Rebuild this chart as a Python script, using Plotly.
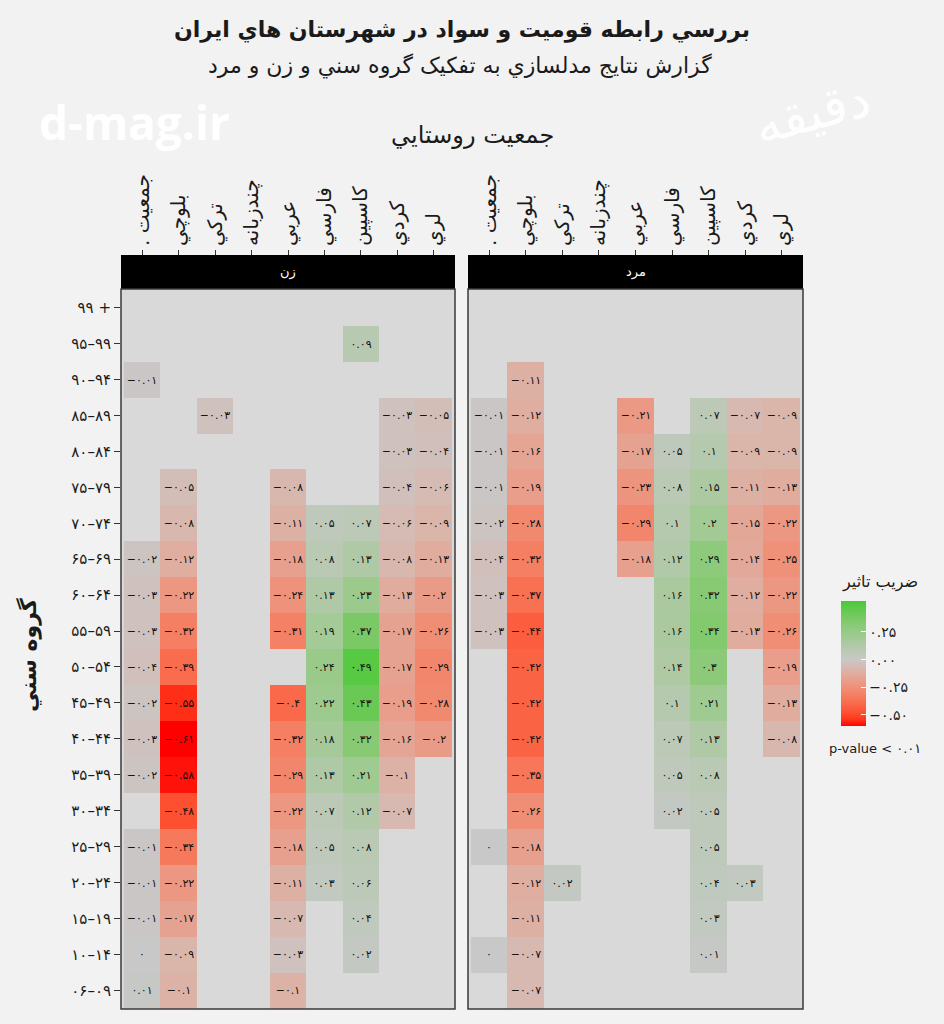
import numpy as np
import plotly.graph_objects as go

N = None
# ---------------- data ----------------
ages = ["۹۹ +", "۹۵–۹۹", "۹۰–۹۴", "۸۵–۸۹", "۸۰–۸۴", "۷۵–۷۹", "۷۰–۷۴", "۶۵–۶۹", "۶۰–۶۴", "۵۵–۵۹",
        "۵۰–۵۴", "۴۵–۴۹", "۴۰–۴۴", "۳۵–۳۹", "۳۰–۳۴", "۲۵–۲۹", "۲۰–۲۴", "۱۵–۱۹", "۱۰–۱۴", "۰۶–۰۹"]
ethnic = ["جمعيت .\u200f", "بلوچي", "ترکي", "چندزبانه", "عربي", "فارسي", "کاسپين", "کردي", "لري"]

zan_jamiat = [N, N, -0.01, N, N, N, N, -0.02, -0.03, -0.03, -0.04, -0.02, -0.03, -0.02, N, -0.01, -0.01, -0.01, 0, 0.01]
zan_baluchi = [N, N, N, N, N, -0.05, -0.08, -0.12, -0.22, -0.32, -0.39, -0.55, -0.61, -0.58, -0.48, -0.34, -0.22, -0.17, -0.09, -0.1]
zan_torki = [N, N, N, -0.03, N, N, N, N, N, N, N, N, N, N, N, N, N, N, N, N]
zan_chand = [N, N, N, N, N, N, N, N, N, N, N, N, N, N, N, N, N, N, N, N]
zan_arabi = [N, N, N, N, N, -0.08, -0.11, -0.18, -0.24, -0.31, N, -0.4, -0.32, -0.29, -0.22, -0.18, -0.11, -0.07, -0.03, -0.1]
zan_farsi = [N, N, N, N, N, N, 0.05, 0.08, 0.13, 0.19, 0.24, 0.22, 0.18, 0.13, 0.07, 0.05, 0.03, N, N, N]
zan_caspian = [N, 0.09, N, N, N, N, 0.07, 0.13, 0.23, 0.37, 0.49, 0.43, 0.32, 0.21, 0.12, 0.08, 0.06, 0.04, 0.02, N]
zan_kurdi = [N, N, N, -0.03, -0.03, -0.04, -0.06, -0.08, -0.13, -0.17, -0.17, -0.19, -0.16, -0.1, -0.07, N, N, N, N, N]
zan_lori = [N, N, N, -0.05, -0.04, -0.06, -0.09, -0.13, -0.2, -0.26, -0.29, -0.28, -0.2, N, N, N, N, N, N, N]

mard_jamiat = [N, N, N, -0.01, -0.01, -0.01, -0.02, -0.04, -0.03, -0.03, N, N, N, N, N, 0, N, N, 0, N]
mard_baluchi = [N, N, -0.11, -0.12, -0.16, -0.19, -0.28, -0.32, -0.37, -0.44, -0.42, -0.42, -0.42, -0.35, -0.26, -0.18, -0.12, -0.11, -0.07, -0.07]
mard_torki = [N, N, N, N, N, N, N, N, N, N, N, N, N, N, N, N, 0.02, N, N, N]
mard_chand = [N, N, N, N, N, N, N, N, N, N, N, N, N, N, N, N, N, N, N, N]
mard_arabi = [N, N, N, -0.21, -0.17, -0.23, -0.29, -0.18, N, N, N, N, N, N, N, N, N, N, N, N]
mard_farsi = [N, N, N, N, 0.05, 0.08, 0.1, 0.12, 0.16, 0.16, 0.14, 0.1, 0.07, 0.05, 0.02, N, N, N, N, N]
mard_caspian = [N, N, N, 0.07, 0.1, 0.15, 0.2, 0.29, 0.32, 0.34, 0.3, 0.21, 0.13, 0.08, 0.05, 0.05, 0.04, 0.03, 0.01, N]
mard_kurdi = [N, N, N, -0.07, -0.09, -0.11, -0.15, -0.14, -0.12, -0.13, N, N, N, N, N, N, 0.03, N, N, N]
mard_lori = [N, N, N, -0.09, -0.09, -0.13, -0.22, -0.25, -0.22, -0.26, -0.19, -0.13, -0.08, N, N, N, N, N, N, N]

legend_vals = [0.25, 0.0, -0.25, -0.5]
legend_text = ["۰.۲۵", "۰.۰۰", "−۰.۲۵", "−۰.۵۰"]

zan_cols = [zan_jamiat, zan_baluchi, zan_torki, zan_chand, zan_arabi, zan_farsi, zan_caspian, zan_kurdi, zan_lori]
mard_cols = [mard_jamiat, mard_baluchi, mard_torki, mard_chand, mard_arabi, mard_farsi, mard_caspian, mard_kurdi, mard_lori]

# ---------------- helpers ----------------
FA = str.maketrans("0123456789-", "۰۱۲۳۴۵۶۷۸۹−")


def fa(v):
    if v is None:
        return ""
    return f"{v:g}".translate(FA)


def to_matrix(cols):
    z = np.array([[np.nan if c[i] is None else c[i] for c in cols] for i in range(len(ages))], dtype=float)
    t = [[fa(c[i]) for c in cols] for i in range(len(ages))]
    return z, t


def srgb_to_lab(rgb):
    c = np.array(rgb, dtype=float) / 255.0
    c = np.where(c > 0.04045, ((c + 0.055) / 1.055) ** 2.4, c / 12.92)
    M = np.array([[0.4124, 0.3576, 0.1805], [0.2126, 0.7152, 0.0722], [0.0193, 0.1192, 0.9505]])
    xyz = M @ c / np.array([0.95047, 1.0, 1.08883])
    f = np.where(xyz > 0.008856, np.cbrt(xyz), 7.787 * xyz + 16 / 116)
    return np.array([116 * f[1] - 16, 500 * (f[0] - f[1]), 200 * (f[1] - f[2])])


def lab_to_srgb(lab):
    L, a, b = lab
    fy = (L + 16) / 116
    fx = fy + a / 500
    fz = fy - b / 200
    f = np.array([fx, fy, fz])
    xyz = np.where(f ** 3 > 0.008856, f ** 3, (f - 16 / 116) / 7.787) * np.array([0.95047, 1.0, 1.08883])
    Mi = np.array([[3.2406, -1.5372, -0.4986], [-0.9689, 1.8758, 0.0415], [0.0557, -0.2040, 1.0570]])
    c = Mi @ xyz
    c = np.where(c > 0.0031308, 1.055 * np.clip(c, 0, None) ** (1 / 2.4) - 0.055, 12.92 * c)
    c = np.clip(c, 0, 1) * 255
    return "rgb(%d,%d,%d)" % tuple(np.round(c).astype(int))


CMIN, CMAX = -0.60, 0.53
LOW, MID, HIGH = (255, 0, 0), (200, 200, 200), (72, 200, 52)
mid_pos = (0 - CMIN) / (CMAX - CMIN)
colorscale = []
for k in range(11):
    t = k / 10
    lab = srgb_to_lab(LOW) * (1 - t) + srgb_to_lab(MID) * t
    colorscale.append([mid_pos * t, lab_to_srgb(lab)])
for k in range(1, 11):
    t = k / 10
    lab = srgb_to_lab(MID) * (1 - t) + srgb_to_lab(HIGH) * t
    colorscale.append([mid_pos + (1 - mid_pos) * t, lab_to_srgb(lab)])

# ---------------- geometry ----------------
W, H = 944, 1024
ML, MR, MT, MB = 121, 944 - 803, 255, 1024 - 1009
PW, PH = W - ML - MR, H - MT - MB


def px(x):
    return (x - ML) / PW


def py(y):
    return (H - MB - y) / PH


FONT = "DejaVu Sans"
TXT = "#1a1a1a"

zz, tz = to_matrix(zan_cols)
zm, tm = to_matrix(mard_cols)

fig = go.Figure()
fig.add_trace(go.Heatmap(z=zz, x=ethnic, y=ages, text=tz, texttemplate="%{text}",
                         textfont=dict(size=11, color="#111", family=FONT),
                         coloraxis="coloraxis", xaxis="x", yaxis="y", hoverinfo="skip"))
fig.add_trace(go.Heatmap(z=zm, x=ethnic, y=ages, text=tm, texttemplate="%{text}",
                         textfont=dict(size=11, color="#111", family=FONT),
                         coloraxis="coloraxis", xaxis="x2", yaxis="y", hoverinfo="skip"))

ydom_top = py(289)
xcommon = dict(type="category", categoryorder="array", categoryarray=ethnic, range=[-0.58, 8.58],
               side="top", anchor="free", position=1.0, tickangle=-90, ticks="outside", ticklen=5,
               tickcolor="#333", showgrid=False, zeroline=False, showline=False,
               tickfont=dict(size=20, color=TXT, family=FONT))

fig.update_layout(
    width=W, height=H,
    margin=dict(l=ML, r=MR, t=MT, b=MB, autoexpand=False),
    paper_bgcolor="#F2F2F2", plot_bgcolor="#D9D9D9",
    font=dict(family=FONT, color=TXT),
    xaxis=dict(domain=[px(121), px(455)], **xcommon),
    xaxis2=dict(domain=[px(468), px(803)], **xcommon),
    yaxis=dict(domain=[0, ydom_top], anchor="x", type="category", categoryorder="array",
               categoryarray=ages, range=[19.52, -0.52], ticks="outside", ticklen=6,
               tickcolor="#333", showgrid=False, zeroline=False, showline=False,
               tickfont=dict(size=15, color=TXT, family=FONT)),
    coloraxis=dict(colorscale=colorscale, cmin=CMIN, cmax=CMAX,
                   colorbar=dict(xref="container", yref="paper", x=841 / W, xanchor="left",
                                 y=py(601), yanchor="top", lenmode="pixels", len=125,
                                 thicknessmode="pixels", thickness=25, xpad=0, ypad=0,
                                 outlinewidth=0, tickvals=legend_vals, ticktext=legend_text,
                                 ticks="inside", ticklen=5, tickcolor="white",
                                 tickfont=dict(size=14, color=TXT, family=FONT))),
)

shapes = []
for xr in ["x domain", "x2 domain"]:
    shapes.append(dict(type="rect", xref=xr, yref="paper", x0=0, x1=1, y0=ydom_top, y1=1,
                       fillcolor="black", line=dict(width=0), layer="above"))
    shapes.append(dict(type="rect", xref=xr, yref="y domain", x0=0, x1=1, y0=0, y1=1,
                       fillcolor="rgba(0,0,0,0)", line=dict(color="#3a3a3a", width=1.5), layer="above"))
fig.update_layout(shapes=shapes)

ann = []


def add_text(x, y, text, size, color=TXT, bold=False, family=FONT, angle=0, xanchor="center", opacity=1):
    t = "<b>%s</b>" % text if bold else text
    ann.append(dict(x=px(x), y=py(y), xref="paper", yref="paper", text=t, showarrow=False,
                    font=dict(size=size, color=color, family=family), xanchor=xanchor,
                    yanchor="middle", textangle=angle, opacity=opacity))


add_text(462, 30, "بررسي رابطه قوميت و سواد در شهرستان هاي ايران", 22, bold=True)
add_text(460, 66, "گزارش نتايج مدلسازي به تفکيک گروه سني و زن و مرد", 22)
add_text(472, 135, "جمعيت روستايي", 24)
add_text(134, 122, "d-mag.ir", 46, color="white", bold=True, family="Open Sans")
add_text(812, 112, "دقیقه", 52, color="white", angle=-15, opacity=0.95)
add_text(288, 272, "زن", 13, color="white")
add_text(636, 272, "مرد", 13, color="white")
add_text(28, 655, "<b>گروه سني</b>", 22, angle=-90)
add_text(880, 582, "ضريب تاثير", 16)
add_text(875, 748, "p-value < ۰.۰۱", 13)
fig.update_layout(annotations=ann)

fig.write_html("out.html")
